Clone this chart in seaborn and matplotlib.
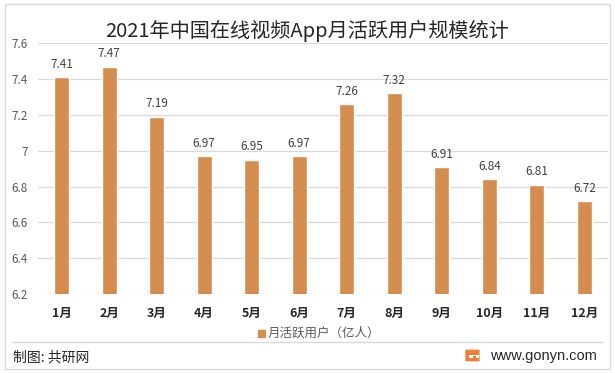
import matplotlib
matplotlib.use("Agg")
import matplotlib.pyplot as plt
import seaborn as sns
import pandas as pd
from matplotlib.patches import Rectangle, FancyBboxPatch
from matplotlib.lines import Line2D

months = ["1月", "2月", "3月", "4月", "5月", "6月", "7月", "8月", "9月", "10月", "11月", "12月"]
users = [7.41, 7.47, 7.19, 6.97, 6.95, 6.97, 7.26, 7.32, 6.91, 6.84, 6.81, 6.72]
yticks = [6.2, 6.4, 6.6, 6.8, 7.0, 7.2, 7.4, 7.6]
ytick_labels = ["6.2", "6.4", "6.6", "6.8", "7", "7.2", "7.4", "7.6"]
title = "2021年中国在线视频App月活跃用户规模统计"
series_name = "月活跃用户（亿人）"

sns.set_theme(style="white")
plt.rcParams["font.family"] = ["Noto Sans CJK SC", "DejaVu Sans"]

df = pd.DataFrame({"month": months, "users": users})
bar_color = "#D58D4F"

W, H = 615, 373
fig = plt.figure(figsize=(6.15, 3.73), dpi=100)
fig.patch.set_facecolor("white")
ax = fig.add_axes([37.75 / W, 79 / H, 570.5 / W, 250.7 / H])

sns.barplot(data=df, x="month", y="users", color=bar_color, width=0.316,
            saturation=1, ax=ax)
ax.set_ylim(6.2, 7.6)
ax.set_yticks(yticks)
ax.set_yticklabels(ytick_labels, color="#595959", fontsize=8.5)
ax.tick_params(axis="y", length=0, pad=7)
ax.tick_params(axis="x", length=0, pad=9, labelsize=9, labelcolor="#262626")
for lab in ax.get_xticklabels():
    lab.set_fontweight("bold")
ax.set_xlabel("")
ax.set_ylabel("")
ax.grid(axis="y", color="#D9D9D9", linewidth=0.9)
ax.set_axisbelow(True)
for s in ax.spines.values():
    s.set_visible(False)

for i, v in enumerate(users):
    ax.text(i, v + 0.035, f"{v:.2f}", ha="center", va="bottom", fontsize=8.5, color="#404040")

# title
fig.text(0.5, 1 - 31 / H, title, ha="center", va="center", fontsize=14.5, color="#262626")

# legend
fig.patches.append(Rectangle((258 / W, 1 - 337 / H), 7 / W, 7 / H,
                             transform=fig.transFigure, color=bar_color))
fig.text(268 / W, 1 - 333.5 / H, series_name, ha="left", va="center",
         fontsize=9, color="#595959")

# separator line
fig.lines.append(Line2D([12 / W, 602 / W], [1 - 342 / H, 1 - 342 / H],
                        transform=fig.transFigure, color="#D9D9D9", linewidth=1))

# footer
fig.text(13 / W, 1 - 357 / H, "制图: 共研网", ha="left", va="center",
         fontsize=10, color="#262626")
fig.text(597 / W, 1 - 356 / H, "www.gonyn.com", ha="right", va="center",
         fontsize=10.5, color="#262626", family=["Liberation Sans", "DejaVu Sans"])
# logo
fig.patches.append(FancyBboxPatch((466 / W, 1 - 361 / H), 13 / W, 11 / H,
                                  boxstyle="round,pad=0.001", transform=fig.transFigure,
                                  color="#F07E3A", linewidth=0))
fig.patches.append(Rectangle((469 / W, 1 - 357.5 / H), 10 / W, 2.5 / H,
                             transform=fig.transFigure, color="white", linewidth=0))
fig.patches.append(Rectangle((473 / W, 1 - 357.5 / H), 3 / W, 1.5 / H,
                             transform=fig.transFigure, color="#F07E3A", linewidth=0))

# outer border
fig.patches.append(Rectangle((5 / W, 4 / H), 605 / W, 365 / H, transform=fig.transFigure,
                             fill=False, edgecolor="#D9D9D9", linewidth=1))

fig.savefig("out.png", dpi=100)
